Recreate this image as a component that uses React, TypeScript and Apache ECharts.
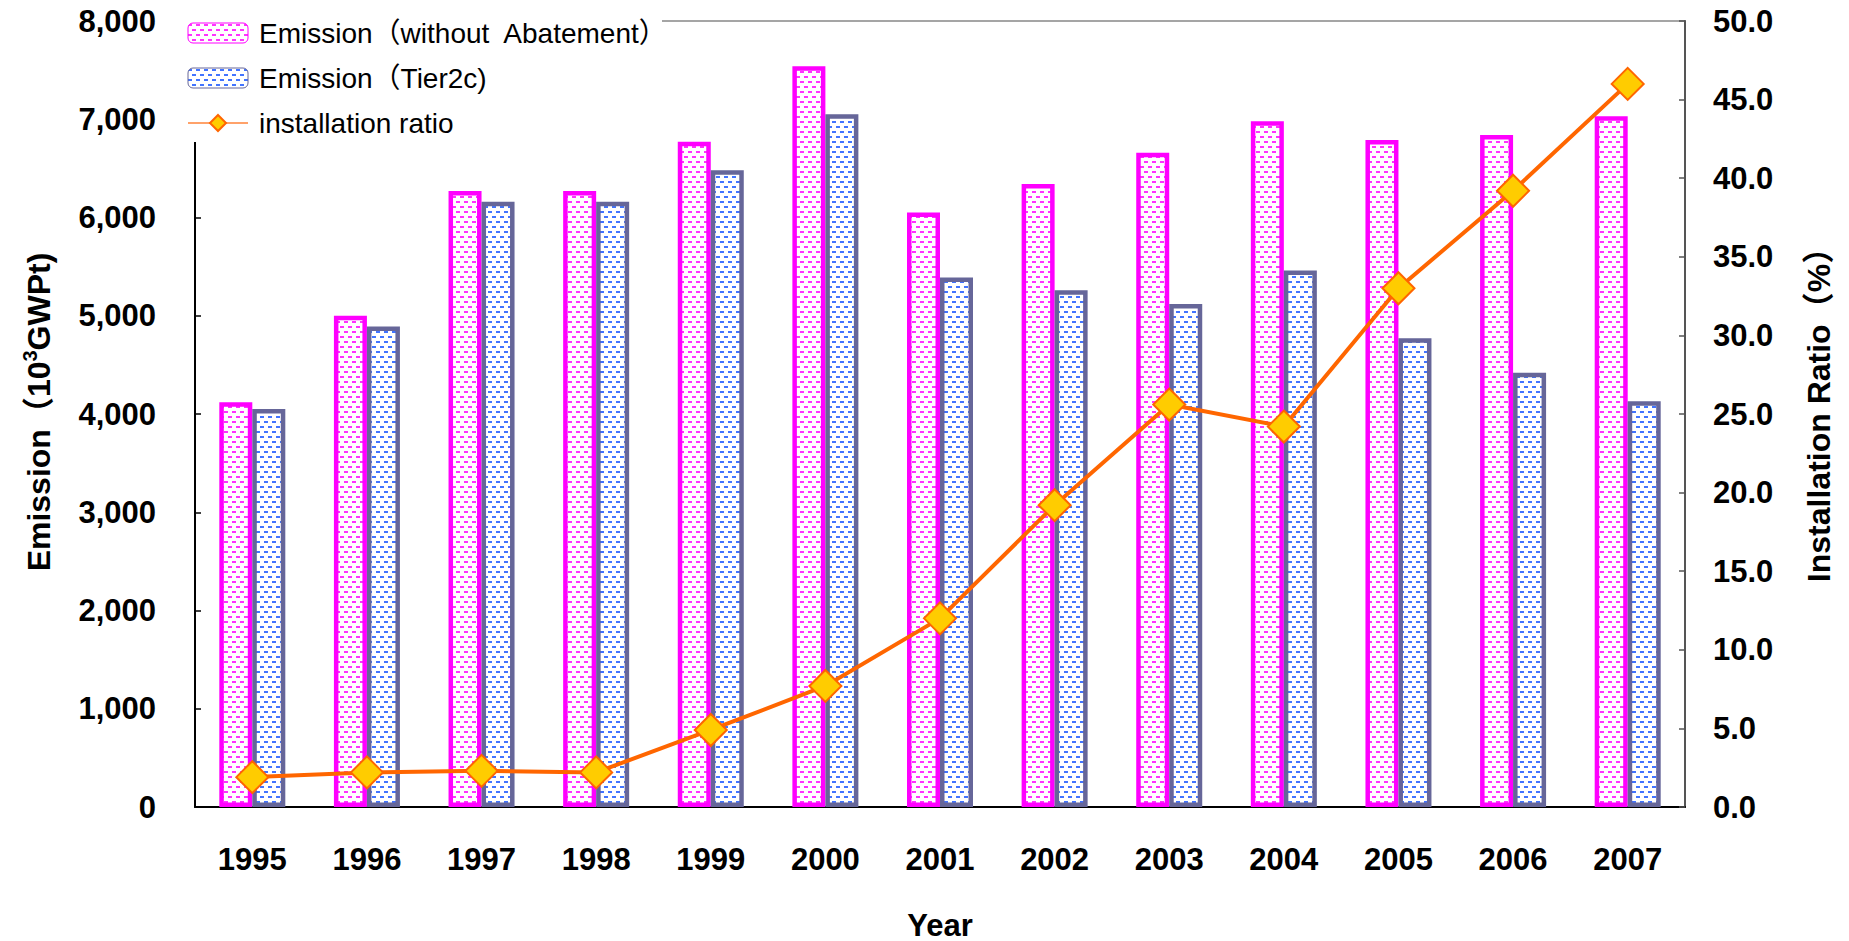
import React, { useEffect, useRef } from 'react';
import * as echarts from 'echarts';

const years = ['1995', '1996', '1997', '1998', '1999', '2000', '2001', '2002', '2003', '2004', '2005', '2006', '2007'];
const emissionWithout = [4120, 5000, 6270, 6270, 6770, 7540, 6050, 6340, 6660, 6980, 6790, 6840, 7030];
const emissionTier2c = [4050, 4890, 6160, 6160, 6480, 7050, 5390, 5260, 5120, 5460, 4770, 4420, 4130];
const installationRatio = [1.9, 2.2, 2.3, 2.2, 4.9, 7.7, 12.0, 19.2, 25.6, 24.2, 33.0, 39.2, 46.0];

const NAME_A = 'Emission（without  Abatement）';
const NAME_B = 'Emission（Tier2c)';
const NAME_C = 'installation ratio';

const FONT = "'Liberation Sans', Arial, 'Noto Sans CJK JP', sans-serif";

function makePattern(color: string) {
  const c = document.createElement('canvas');
  c.width = 8;
  c.height = 10;
  const ctx = c.getContext('2d')!;
  ctx.fillStyle = '#ffffff';
  ctx.fillRect(0, 0, 8, 10);
  ctx.fillStyle = color;
  ctx.globalAlpha = 1;
  ctx.fillRect(0, 1, 4, 2);
  ctx.fillRect(4, 6, 4, 2);
  return { image: c, repeat: 'repeat' };
}

export default function App() {
  const ref = useRef<HTMLDivElement>(null);
  useEffect(() => {
    if (!ref.current) return;
    const chart = echarts.init(ref.current, null, { renderer: 'svg' });
    const pinkFill = makePattern('#ff33ff');
    const blueFill = makePattern('#4274ff');
    chart.setOption({
      animation: false,
      backgroundColor: '#ffffff',
      grid: { left: 195, right: 164, top: 21, bottom: 134, containLabel: false, show: true, borderColor: '#888888', borderWidth: 1.5, backgroundColor: 'transparent' },
      legend: {
        orient: 'vertical',
        left: 187,
        top: 19,
        padding: 0,
        itemWidth: 60,
        itemHeight: 20,
        itemGap: 17,
        z: 100,
        textStyle: { fontFamily: FONT, fontSize: 28, color: '#000', padding: [0, 0, 0, 6] },
        data: [
          { name: NAME_A, itemStyle: { borderWidth: 1 } },
          { name: NAME_B, itemStyle: { borderWidth: 1 } },
          { name: NAME_C, lineStyle: { width: 2, color: '#ffa26a' }, itemStyle: { borderWidth: 2 } },
        ],
      },
      xAxis: {
        type: 'category',
        data: years,
        axisLine: { lineStyle: { color: '#000', width: 2 } },
        axisTick: { inside: true, length: 10, lineStyle: { color: '#000', width: 1.5 } },
        axisLabel: { fontFamily: FONT, fontSize: 31, fontWeight: 'bold', color: '#000', margin: 37 },
        splitLine: { show: false },
      },
      yAxis: [
        {
          type: 'value',
          min: 0,
          max: 8000,
          interval: 1000,
          axisLine: { show: true, lineStyle: { color: '#000', width: 2 } },
          axisTick: { show: true, inside: true, length: 6, lineStyle: { color: '#000', width: 1.5 } },
          axisLabel: {
            fontFamily: FONT, fontSize: 31, fontWeight: 'bold', color: '#000', margin: 39,
            formatter: (v: number) => v.toLocaleString('en-US'),
          },
          splitLine: { show: false },
        },
        {
          type: 'value',
          min: 0,
          max: 50,
          interval: 5,
          position: 'right',
          axisLine: { show: true, lineStyle: { color: '#555', width: 2 } },
          axisTick: { show: true, inside: true, length: 6, lineStyle: { color: '#555', width: 1.5 } },
          axisLabel: {
            fontFamily: FONT, fontSize: 31, fontWeight: 'bold', color: '#000', margin: 28,
            formatter: (v: number) => v.toFixed(1),
          },
          splitLine: { show: false },
        },
      ],
      series: [
        {
          name: NAME_A,
          type: 'bar',
          data: emissionWithout,
          barWidth: 33,
          barGap: '0%',
          itemStyle: { color: pinkFill, borderColor: '#ff00ff', borderWidth: 4.5 },
        },
        {
          name: NAME_B,
          type: 'bar',
          data: emissionTier2c,
          barWidth: 33,
          barGap: '0%',
          itemStyle: { color: blueFill, borderColor: '#666699', borderWidth: 4.5 },
        },
        {
          name: NAME_C,
          type: 'line',
          yAxisIndex: 1,
          data: installationRatio,
          symbol: 'diamond',
          symbolSize: 32,
          z: 5,
          lineStyle: { color: '#ff6600', width: 4 },
          itemStyle: { color: '#ffcc00', borderColor: '#ff6600', borderWidth: 2 },
        },
      ],
      graphic: [
        { type: 'rect', z: 50, shape: { x: 180, y: 0, width: 482, height: 142 }, style: { fill: '#ffffff' } },
        {
          type: 'text',
          z: 60,
          x: 39,
          y: 412,
          rotation: Math.PI / 2,
          style: {
            text: '{a|Emission（10}{s|3}{a|GWPt)}',
            align: 'center',
            verticalAlign: 'middle',
            fill: '#000',
            rich: {
              a: { fontFamily: FONT, fontSize: 32, fontWeight: 'bold', lineHeight: 38, fill: '#000' },
              s: { fontFamily: FONT, fontSize: 20, fontWeight: 'bold', lineHeight: 38, verticalAlign: 'top', fill: '#000' },
            },
          },
        },
        {
          type: 'text',
          z: 60,
          x: 1819,
          y: 407,
          rotation: Math.PI / 2,
          style: {
            text: 'Installation Ratio（%）',
            align: 'center',
            verticalAlign: 'middle',
            fill: '#000',
            font: `bold 32px ${FONT}`,
          },
        },
        {
          type: 'text',
          z: 60,
          x: 940,
          y: 925,
          style: {
            text: 'Year',
            align: 'center',
            verticalAlign: 'middle',
            fill: '#000',
            font: `bold 31px ${FONT}`,
          },
        },
      ],
    });
    return () => chart.dispose();
  }, []);
  return <div ref={ref} style={{ position: 'absolute', left: 0, top: 0, width: 1849, height: 941 }} />;
}
